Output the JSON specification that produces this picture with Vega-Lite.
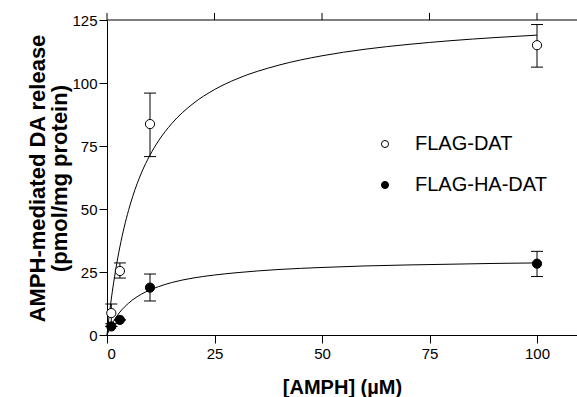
{
  "$schema": "https://vega.github.io/schema/vega-lite/v6.json",
  "autosize": "none",
  "width": 470,
  "height": 315,
  "padding": {"left": 107, "top": 20, "right": 0, "bottom": 62},
  "background": "white",
  "config": {
    "view": {"stroke": null},
    "font": "Liberation Sans",
    "axis": {
      "grid": false,
      "domainColor": "black",
      "tickColor": "black",
      "labelColor": "black",
      "titleColor": "black",
      "labelFont": "Liberation Sans",
      "titleFont": "Liberation Sans",
      "labelFontSize": 15,
      "tickSize": 8,
      "domainWidth": 1,
      "tickWidth": 1
    },
    "legend": {"labelFont": "Liberation Sans"}
  },
  "datasets": {
    "fit": [
      {"series": "FLAG-DAT", "x": 0, "y": 0},
      {"series": "FLAG-DAT", "x": 0.5, "y": 7.6},
      {"series": "FLAG-DAT", "x": 1, "y": 14.3},
      {"series": "FLAG-DAT", "x": 2, "y": 25.7},
      {"series": "FLAG-DAT", "x": 3, "y": 35.0},
      {"series": "FLAG-DAT", "x": 4, "y": 42.8},
      {"series": "FLAG-DAT", "x": 5, "y": 49.4},
      {"series": "FLAG-DAT", "x": 6, "y": 55.1},
      {"series": "FLAG-DAT", "x": 8, "y": 64.3},
      {"series": "FLAG-DAT", "x": 10, "y": 71.4},
      {"series": "FLAG-DAT", "x": 12, "y": 77.1},
      {"series": "FLAG-DAT", "x": 15, "y": 83.8},
      {"series": "FLAG-DAT", "x": 20, "y": 91.8},
      {"series": "FLAG-DAT", "x": 25, "y": 97.4},
      {"series": "FLAG-DAT", "x": 30, "y": 101.5},
      {"series": "FLAG-DAT", "x": 40, "y": 107.1},
      {"series": "FLAG-DAT", "x": 50, "y": 110.8},
      {"series": "FLAG-DAT", "x": 60, "y": 113.4},
      {"series": "FLAG-DAT", "x": 70, "y": 115.3},
      {"series": "FLAG-DAT", "x": 80, "y": 116.8},
      {"series": "FLAG-DAT", "x": 90, "y": 118.0},
      {"series": "FLAG-DAT", "x": 100, "y": 119.0},
      {"series": "FLAG-HA-DAT", "x": 0, "y": 0},
      {"series": "FLAG-HA-DAT", "x": 0.5, "y": 2.0},
      {"series": "FLAG-HA-DAT", "x": 1, "y": 3.8},
      {"series": "FLAG-HA-DAT", "x": 2, "y": 6.7},
      {"series": "FLAG-HA-DAT", "x": 3, "y": 9.1},
      {"series": "FLAG-HA-DAT", "x": 4, "y": 11.0},
      {"series": "FLAG-HA-DAT", "x": 5, "y": 12.6},
      {"series": "FLAG-HA-DAT", "x": 6, "y": 14.0},
      {"series": "FLAG-HA-DAT", "x": 8, "y": 16.2},
      {"series": "FLAG-HA-DAT", "x": 10, "y": 17.9},
      {"series": "FLAG-HA-DAT", "x": 12, "y": 19.2},
      {"series": "FLAG-HA-DAT", "x": 15, "y": 20.8},
      {"series": "FLAG-HA-DAT", "x": 20, "y": 22.6},
      {"series": "FLAG-HA-DAT", "x": 25, "y": 23.8},
      {"series": "FLAG-HA-DAT", "x": 30, "y": 24.7},
      {"series": "FLAG-HA-DAT", "x": 40, "y": 26.0},
      {"series": "FLAG-HA-DAT", "x": 50, "y": 26.8},
      {"series": "FLAG-HA-DAT", "x": 60, "y": 27.4},
      {"series": "FLAG-HA-DAT", "x": 70, "y": 27.8},
      {"series": "FLAG-HA-DAT", "x": 80, "y": 28.1},
      {"series": "FLAG-HA-DAT", "x": 90, "y": 28.4},
      {"series": "FLAG-HA-DAT", "x": 100, "y": 28.6}
    ],
    "pts": [
      {"series": "FLAG-DAT", "x": 1, "y": 8.7, "lo": 4.5, "hi": 12.3},
      {"series": "FLAG-DAT", "x": 3, "y": 25.4, "lo": 22.6, "hi": 28.6},
      {"series": "FLAG-DAT", "x": 10, "y": 83.7, "lo": 70.8, "hi": 96.0},
      {"series": "FLAG-DAT", "x": 100, "y": 115.0, "lo": 106.3, "hi": 123.2},
      {"series": "FLAG-HA-DAT", "x": 1, "y": 3.4, "lo": 3.4, "hi": 3.4},
      {"series": "FLAG-HA-DAT", "x": 3, "y": 6.0, "lo": 6.0, "hi": 6.0},
      {"series": "FLAG-HA-DAT", "x": 10, "y": 18.8, "lo": 13.5, "hi": 24.2},
      {"series": "FLAG-HA-DAT", "x": 100, "y": 28.3, "lo": 23.2, "hi": 33.2}
    ],
    "topticks": [{"x": 0}, {"x": 25}, {"x": 50}, {"x": 75}, {"x": 100}]
  },
  "layer": [
    {
      "data": {"name": "fit"},
      "mark": {"type": "line", "color": "black", "strokeWidth": 1, "interpolate": "monotone"},
      "encoding": {
        "x": {"field": "x", "type": "quantitative", "scale": {"domain": [0, 109.3], "nice": false, "zero": false},
              "axis": {"orient": "bottom", "values": [0, 25, 50, 75, 100], "labelPadding": 3,
                       "title": "[AMPH] (µM)", "titleFontSize": 20, "titleFontWeight": "bold",
                       "titleBaseline": "alphabetic", "titleY": 58}},
        "y": {"field": "y", "type": "quantitative", "scale": {"domain": [0, 125], "nice": false},
              "axis": {"orient": "left", "values": [0, 25, 50, 75, 100, 125], "labelPadding": 2,
                       "title": ["AMPH-mediated DA release", "(pmol/mg protein)"],
                       "titleFontSize": 22, "titleFontWeight": "bold", "titleLineHeight": 22,
                       "titleAngle": -90, "titleBaseline": "middle", "titleAlign": "center",
                       "titleX": -70, "titleY": 158}},
        "detail": {"field": "series"}
      }
    },
    {
      "data": {"values": [{"a": 0}]},
      "mark": {"type": "rule", "color": "black", "strokeWidth": 1},
      "encoding": {
        "x": {"datum": 0, "type": "quantitative"},
        "x2": {"datum": 109.3},
        "y": {"datum": 125, "type": "quantitative"}
      }
    },
    {
      "data": {"name": "topticks"},
      "mark": {"type": "rule", "color": "black", "strokeWidth": 1},
      "encoding": {
        "x": {"field": "x", "type": "quantitative"},
        "y": {"datum": 125, "type": "quantitative"},
        "y2": {"datum": 127.8}
      }
    },
    {
      "data": {"name": "pts"},
      "mark": {"type": "rule", "color": "black", "strokeWidth": 1},
      "encoding": {
        "x": {"field": "x", "type": "quantitative"},
        "y": {"field": "lo", "type": "quantitative"},
        "y2": {"field": "hi"}
      }
    },
    {
      "data": {"name": "pts"},
      "mark": {"type": "tick", "orient": "horizontal", "color": "black", "opacity": 1, "size": 12, "thickness": 1},
      "encoding": {
        "x": {"field": "x", "type": "quantitative"},
        "y": {"field": "hi", "type": "quantitative"}
      }
    },
    {
      "data": {"name": "pts"},
      "mark": {"type": "tick", "orient": "horizontal", "color": "black", "opacity": 1, "size": 12, "thickness": 1},
      "encoding": {
        "x": {"field": "x", "type": "quantitative"},
        "y": {"field": "lo", "type": "quantitative"}
      }
    },
    {
      "data": {"name": "pts"},
      "mark": {"type": "point", "shape": "circle", "filled": true, "stroke": "black", "strokeWidth": 1, "opacity": 1, "size": 85},
      "encoding": {
        "x": {"field": "x", "type": "quantitative"},
        "y": {"field": "y", "type": "quantitative"},
        "fill": {"field": "series", "type": "nominal",
                 "scale": {"domain": ["FLAG-DAT", "FLAG-HA-DAT"], "range": ["white", "black"]},
                 "legend": {"orient": "none", "legendX": 268, "legendY": 114, "title": null,
                            "labelFontSize": 20, "labelColor": "black", "symbolSize": 50,
                            "symbolStrokeColor": "black", "symbolStrokeWidth": 1, "symbolType": "circle",
                            "labelOffset": 20, "rowPadding": 21, "padding": 0}}
      }
    }
  ]
}
